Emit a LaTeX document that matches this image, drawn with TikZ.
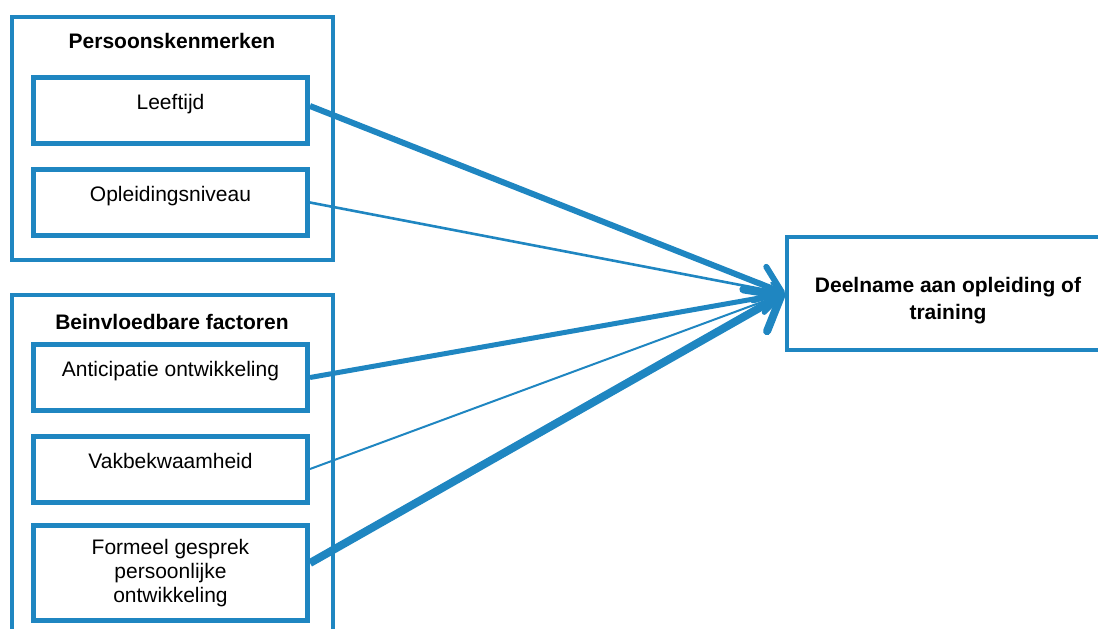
\documentclass[tikz,border=0pt]{standalone}
\usepackage{fontspec}
\setmainfont{Liberation Sans}
\usetikzlibrary{arrows.meta}
\definecolor{blauw}{RGB}{31,134,193}

\begin{document}
\begin{tikzpicture}[
    x=0.5pt, y=-0.5pt,
    kader/.style={rectangle, draw=blauw, line width=2pt, minimum width=160.5pt, inner sep=0pt},
    blok/.style={rectangle, draw=blauw, line width=2.5pt, minimum width=137pt, minimum height=33pt, align=center, font=\fontsize{10.5}{12}\selectfont},
    bovenaan/.style={text height=8pt, text depth=9pt},
    titel/.style={font=\fontsize{10.5}{12}\selectfont\bfseries},
    pijl/.style={draw=blauw, -{Straight Barb[length=3pt 3, width=0pt 6, round]}}
]
\useasboundingbox (0,0) rectangle (1098,628);
\clip (0,0) rectangle (1098,628);

% Kaders
\node[kader, minimum height=121.5pt] (persoon) at (172.5,138.5) {};
\node[titel] (titelpersoon) at (172,41) {Persoonskenmerken};

\node[kader, minimum height=172.5pt] (factoren) at (172.5,467.5) {};
\node[titel] (titelfactoren) at (172,322) {Beinvloedbare factoren};

% Blokken persoonskenmerken
\node[blok, bovenaan] (leeftijd) at (170.5,110.5) {Leeftijd};
\node[blok, bovenaan] (opleiding) at (170.5,202.5) {Opleidingsniveau};

% Blokken beinvloedbare factoren
\node[blok, bovenaan] (anticipatie) at (170.5,377.5) {Anticipatie ontwikkeling};
\node[blok, bovenaan] (vak) at (170.5,469) {Vakbekwaamheid};
\node[blok, minimum height=47.5pt] (formeel) at (170.5,573) {Formeel gesprek\\persoonlijke\\ontwikkeling};

% Uitkomst
\node[rectangle, draw=blauw, line width=2.2pt, minimum width=161pt, minimum height=56.5pt, align=center,
      font=\fontsize{10.5}{13.5}\selectfont\bfseries] (deelname) at (948,293.5) {\rule{0pt}{14.7pt}Deelname aan opleiding of\\training};

% Pijlen
\draw[pijl, line width=3pt] ([yshift=2.25pt]leeftijd.east) -- (deelname.west);
\draw[pijl, line width=1.3pt] (opleiding.east) -- (deelname.west);
\draw[pijl, line width=2.5pt] (anticipatie.east) -- (deelname.west);
\draw[pijl, line width=1pt] (vak.east) -- (deelname.west);
\draw[pijl, line width=4pt] ([yshift=5pt]formeel.east) -- (deelname.west);

\end{tikzpicture}
\end{document}
